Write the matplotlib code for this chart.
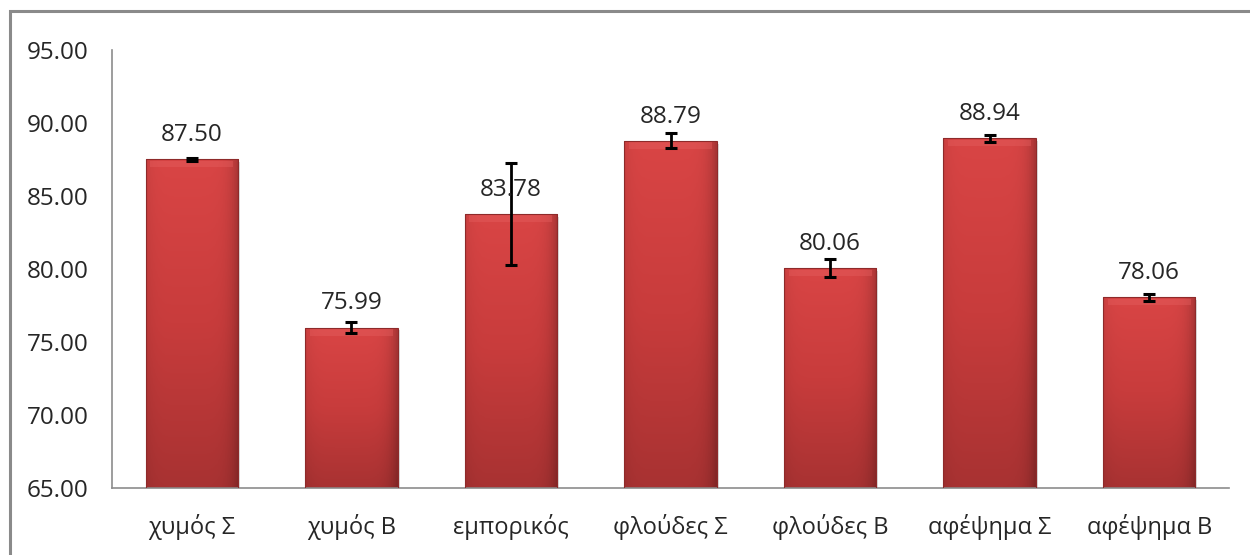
import numpy as np
import matplotlib
matplotlib.use("Agg")
import matplotlib.pyplot as plt
from matplotlib.patches import Rectangle
from matplotlib.colors import LinearSegmentedColormap

plt.rcParams['font.family'] = ['Open Sans', 'DejaVu Sans']

categories = ['χυμός Σ', 'χυμός Β', 'εμπορικός', 'φλούδες Σ', 'φλούδες Β', 'αφέψημα Σ', 'αφέψημα Β']
values = [87.50, 75.99, 83.78, 88.79, 80.06, 88.94, 78.06]
errors = [0.08, 0.38, 3.5, 0.5, 0.63, 0.26, 0.25]
y_ticks = [65, 70, 75, 80, 85, 90, 95]

text_color = '#262626'
axis_color = '#8c8c8c'
bar_width = 0.58

fig = plt.figure(figsize=(12.5, 5.55), dpi=100)
ax = fig.add_axes([0.0896, 0.1207, 0.8936, 0.7893])

# outer chart frame
fig.patches.append(Rectangle((0.008, -0.05), 1.0, 1.03, transform=fig.transFigure,
                             fill=False, edgecolor='#8a8a8a', linewidth=2.2))

x = np.arange(len(categories))
ymin, ymax = 65, 95

grad = LinearSegmentedColormap.from_list('bar', ['#a83232', '#c83c3c', '#d94545'])
cols = np.linspace(0, 1, 40)
edge = 1 - 0.22 * (np.abs(cols - 0.45) / 0.55) ** 6

bars = ax.bar(x, [v - ymin for v in values], bar_width, bottom=ymin,
              color='none', edgecolor='#8e2a2a', linewidth=0.8, zorder=3)

for b, v in zip(bars, values):
    x0 = b.get_x()
    rows = np.linspace(0, 1, 200)[:, None]
    img = grad(rows * np.ones((1, 40)))
    img[..., :3] *= edge[None, :, None]
    im = ax.imshow(img, extent=[x0, x0 + bar_width, ymin, v], origin='lower',
                   aspect='auto', zorder=2)
    im.set_clip_path(b)
    # shadow
    ax.add_patch(Rectangle((x0 + bar_width, ymin), 0.012, v - ymin - 0.2,
                           color='#dcdcdc', zorder=1, linewidth=0))
    # bevel highlight on top
    ax.add_patch(Rectangle((x0 + 0.03, v - 0.55), bar_width - 0.06, 0.45,
                           color='#e66060', alpha=0.4, zorder=2.5, linewidth=0))

ax.errorbar(x, values, yerr=errors, fmt='none', ecolor='black', elinewidth=2,
            capsize=4.5, capthick=2.2, zorder=4)

for xi, v in zip(x, values):
    ax.annotate(f'{v:.2f}', (xi, v), xytext=(0, 13), textcoords='offset points',
                ha='center', va='baseline', fontsize=17.5, color=text_color, zorder=5)

ax.set_xlim(-0.5, len(categories) - 0.5)
ax.set_ylim(ymin, ymax)
ax.set_yticks(y_ticks)
ax.set_yticklabels([f'{t:.2f}' for t in y_ticks])
ax.set_xticks(x)
ax.set_xticklabels(categories)
ax.tick_params(axis='y', length=0, pad=17, labelsize=17.5, labelcolor=text_color)
ax.tick_params(axis='x', length=0, pad=19, labelsize=17, labelcolor=text_color)

for s in ['top', 'right']:
    ax.spines[s].set_visible(False)
for s in ['left', 'bottom']:
    ax.spines[s].set_color(axis_color)
    ax.spines[s].set_linewidth(1.2)

fig.savefig('out.png', dpi=100)
